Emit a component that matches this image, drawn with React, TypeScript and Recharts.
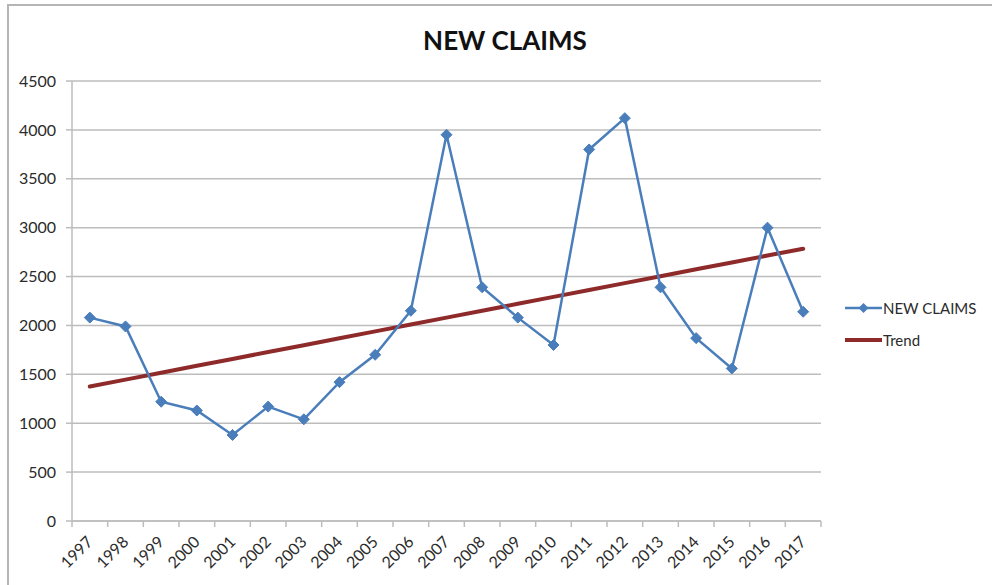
import React from 'react'
import { LineChart, Line, XAxis, YAxis, CartesianGrid, Legend } from 'recharts'

const years = ['1997','1998','1999','2000','2001','2002','2003','2004','2005','2006','2007','2008','2009','2010','2011','2012','2013','2014','2015','2016','2017']
const newClaims = [2080,1990,1220,1130,880,1170,1040,1420,1700,2150,3950,2390,2080,1800,3800,4120,2390,1870,1560,3000,2140]
const trend = [1375,1446,1516,1587,1657,1728,1798,1869,1939,2010,2080,2151,2221,2292,2362,2433,2503,2574,2644,2715,2785]
const yTicks = [0,500,1000,1500,2000,2500,3000,3500,4000,4500]

const data = years.map((year, i) => ({ year, claims: newClaims[i], trend: trend[i] }))

const W = 992
const H = 585
const PLOT_LEFT = 72
const PLOT_RIGHT = 821
const BAND = (PLOT_RIGHT - PLOT_LEFT) / years.length
const FONT = 'Lato, "Open Sans", sans-serif'
const BLUE = '#4a7ebb'
const RED = '#8e2a2a'
const GRID = '#bdbdbd'

const Diamond = (props: any) => {
  const { cx, cy } = props
  if (cx == null || cy == null) return null
  const r = 5.5
  return <path d={`M${cx},${cy - r}L${cx + r},${cy}L${cx},${cy + r}L${cx - r},${cy}Z`} fill={BLUE} stroke={BLUE} />
}

const YearTick = (props: any) => {
  const { x, y, payload, index } = props
  const tx = x + 4
  const ty = y + 22
  return (
    <g>
      <line x1={x - BAND / 2} y1={y} x2={x - BAND / 2} y2={y + 6} stroke={GRID} strokeWidth={1.5} />
      {index === years.length - 1 && (
        <line x1={x + BAND / 2} y1={y} x2={x + BAND / 2} y2={y + 6} stroke={GRID} strokeWidth={1.5} />
      )}
      <text x={tx} y={ty} transform={`rotate(-45, ${tx}, ${ty})`} textAnchor="end" fill="#2b2b2b" fontSize={16} fontFamily={FONT}>
        {payload.value}
      </text>
    </g>
  )
}

const LegendBox = () => (
  <div style={{ width: 142, paddingLeft: 24, fontFamily: FONT, fontSize: 15, color: '#2b2b2b' }}>
    <div style={{ display: 'flex', alignItems: 'center', height: 32 }}>
      <svg width={38} height={14}>
        <line x1={0} y1={7} x2={37} y2={7} stroke={BLUE} strokeWidth={2.5} />
        <path d="M18.5,2L23.5,7L18.5,12L13.5,7Z" fill={BLUE} />
      </svg>
      <span>NEW CLAIMS</span>
    </div>
    <div style={{ display: 'flex', alignItems: 'center', height: 32 }}>
      <svg width={38} height={14}>
        <line x1={0} y1={7} x2={37} y2={7} stroke={RED} strokeWidth={4} />
      </svg>
      <span>Trend</span>
    </div>
  </div>
)

export default function App() {
  return (
    <div style={{ position: 'absolute', left: 0, top: 0, width: W, height: H, background: '#fff', overflow: 'hidden' }}>
      <div style={{ position: 'absolute', left: 7, top: 4, right: 0, bottom: 0, borderTop: '2px solid #b5b5b5', borderLeft: '2px solid #b5b5b5' }} />
      <div style={{ position: 'absolute', left: 0, width: 1010, top: 24, textAlign: 'center', fontFamily: FONT, fontWeight: 700, fontSize: 26, color: '#111' }}>
        NEW CLAIMS
      </div>
      <LineChart width={W} height={H} data={data} margin={{ top: 81, left: 12, right: 5, bottom: 4 }}>
        <CartesianGrid vertical={false} stroke={GRID} strokeWidth={1.5} />
        <XAxis
          dataKey="year"
          height={60}
          interval={0}
          padding={{ left: BAND / 2, right: BAND / 2 }}
          tickLine={false}
          tickSize={0}
          tickMargin={0}
          axisLine={{ stroke: GRID, strokeWidth: 1.5 }}
          tick={<YearTick />}
        />
        <YAxis
          width={60}
          domain={[0, 4500]}
          ticks={yTicks}
          interval={0}
          tickSize={6}
          tickMargin={10}
          axisLine={{ stroke: GRID, strokeWidth: 1.5 }}
          tickLine={{ stroke: GRID, strokeWidth: 1.5 }}
          tick={{ fill: '#2b2b2b', fontSize: 16, fontFamily: FONT }}
        />
        <Legend layout="vertical" align="right" verticalAlign="middle" wrapperStyle={{ top: 292 }} content={<LegendBox />} />
        <Line dataKey="trend" name="Trend" stroke={RED} strokeWidth={4} strokeLinecap="round" dot={false} isAnimationActive={false} />
        <Line dataKey="claims" name="NEW CLAIMS" stroke={BLUE} strokeWidth={2.5} dot={<Diamond />} isAnimationActive={false} />
      </LineChart>
    </div>
  )
}
